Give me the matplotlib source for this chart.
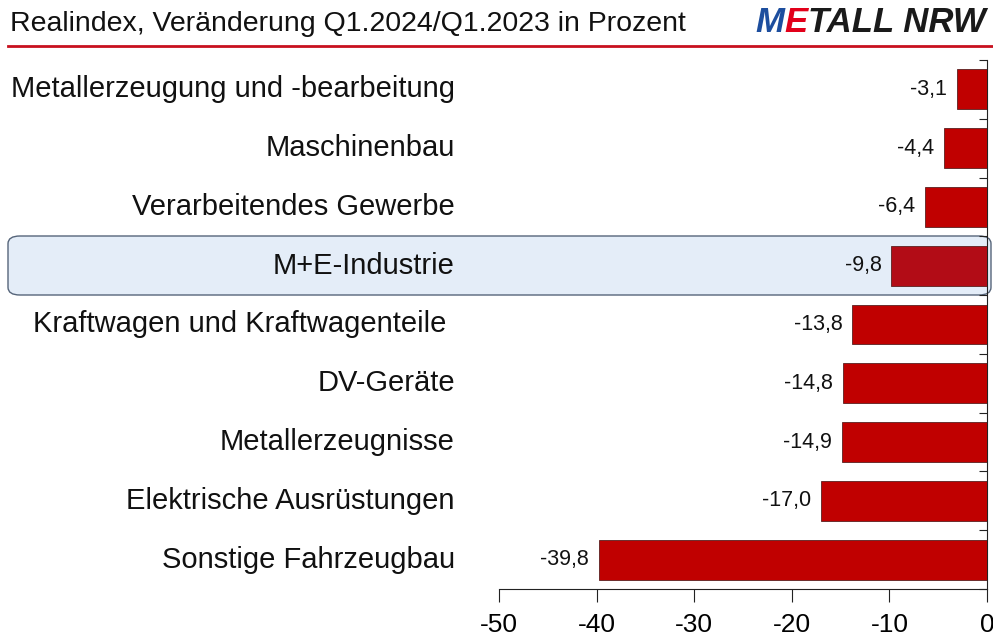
import matplotlib
matplotlib.use("Agg")
import matplotlib.pyplot as plt
from matplotlib.patches import FancyBboxPatch
import matplotlib.transforms as mtransforms

categories = [
    "Metallerzeugung und -bearbeitung",
    "Maschinenbau",
    "Verarbeitendes Gewerbe",
    "M+E-Industrie",
    "Kraftwagen und Kraftwagenteile ",
    "DV-Geräte",
    "Metallerzeugnisse",
    "Elektrische Ausrüstungen",
    "Sonstige Fahrzeugbau",
]
values = [-3.1, -4.4, -6.4, -9.8, -13.8, -14.8, -14.9, -17.0, -39.8]
value_labels = ["-3,1", "-4,4", "-6,4", "-9,8", "-13,8", "-14,8", "-14,9", "-17,0", "-39,8"]
xticks = [-50, -40, -30, -20, -10, 0]
highlight = "M+E-Industrie"
title = "Realindex, Veränderung Q1.2024/Q1.2023 in Prozent"

plt.rcParams['font.family'] = ['Liberation Sans', 'DejaVu Sans']

W, H = 993, 637
fig = plt.figure(figsize=(W / 100, H / 100), dpi=100)
ax = fig.add_axes([499 / W, 1 - 589 / H, (987 - 499) / W, (589 - 60) / H])
ax.set_zorder(2)
ax.patch.set_alpha(0)

# highlight box (figure pixel coords)
box = FancyBboxPatch((8 / W, 1 - 295 / H), (991 - 8) / W, (295 - 236) / H,
                     boxstyle="round,pad=0,rounding_size=0.012",
                     transform=fig.transFigure, facecolor="#e4edf8",
                     edgecolor="#56657a", linewidth=1.0, zorder=1)
fig.add_artist(box)

ypos = list(range(len(categories)))
colors = ["#b20c16" if c == highlight else "#c00000" for c in categories]
ax.barh(ypos, values, height=0.68, color=colors, edgecolor="#5a2020", linewidth=0.6, zorder=3)

ax.set_xlim(-50, 0)
ax.set_ylim(len(categories) - 0.5, -0.5)

for y, v, lab in zip(ypos, values, value_labels):
    ax.annotate(lab, xy=(v, y), xytext=(-7, 0), textcoords="offset points",
                ha="right", va="center", fontsize=15.5, color="#111111")

trans = mtransforms.blended_transform_factory(ax.transAxes, ax.transData)
for y, c in zip(ypos, categories):
    ax.text((455 - 499) / (987 - 499), y, c, transform=trans, ha="right", va="center",
            fontsize=21, color="#111111")

# axes styling
for s in ["top", "left"]:
    ax.spines[s].set_visible(False)
ax.spines["right"].set_position(("data", 0))
ax.spines["right"].set_color("#222222")
ax.spines["bottom"].set_color("#222222")
ax.yaxis.set_ticks_position("right")
ax.set_yticks([i - 0.5 for i in range(len(categories) + 1)])
ax.set_yticklabels([])
ax.tick_params(axis="y", direction="in", length=6, color="#222222")
ax.set_xticks(xticks)
ax.set_xticklabels([str(t) for t in xticks])
ax.tick_params(axis="x", length=9, color="#222222", labelsize=19, pad=8)

# title and rule
fig.text(10 / W, 1 - 24 / H, title, ha="left", va="center", fontsize=20.5, color="#111111")
fig.add_artist(plt.Line2D([8 / W, 1.0], [1 - 46 / H, 1 - 46 / H], transform=fig.transFigure,
                          color="#c8101e", linewidth=2))

# logo, pieces placed one after another
fig.canvas.draw()
renderer = fig.canvas.get_renderer()
logo_y = 1 - 22 / H
x = 755
for txt, col in [("M", "#1d4e9e"), ("E", "#e2001a"), ("TALL NRW", "#1a1a1a")]:
    t = fig.text(x / W, logo_y, txt, ha="left", va="center", fontsize=25, fontweight="bold",
                 style="italic", color=col)
    bb = t.get_window_extent(renderer)
    x = bb.x1 + 0.5

fig.savefig("out.png", dpi=100)
